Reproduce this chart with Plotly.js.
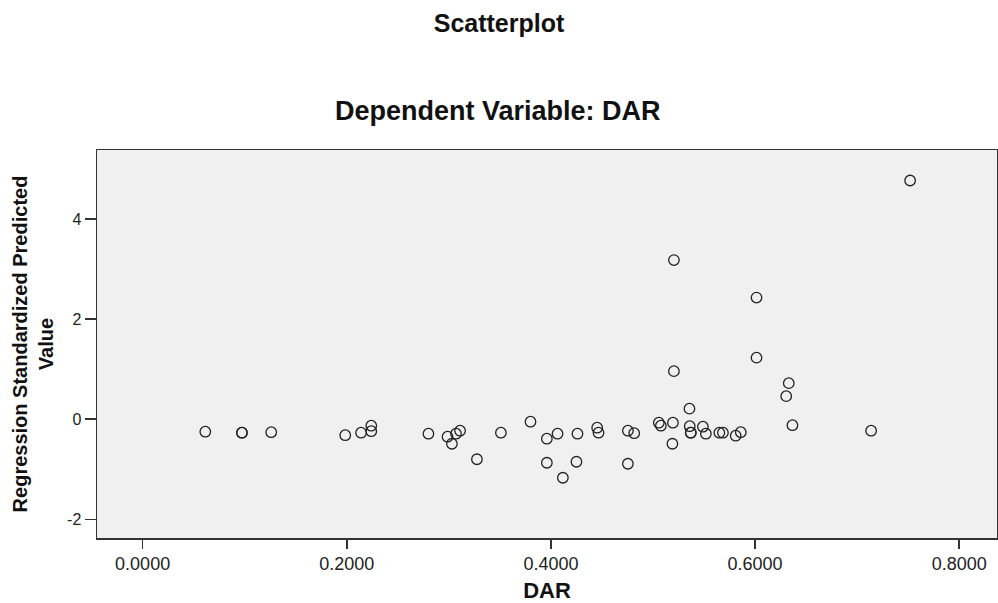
<!DOCTYPE html>
<html>
<head>
<meta charset="utf-8">
<script src="https://cdn.plot.ly/plotly-3.0.1.min.js"></script>
<style>html,body{margin:0;padding:0;background:#fff;}#chart{width:998px;height:603px;}</style>
</head>
<body>
<div id="chart"></div>
<script>
// DAR (x) values
const dar = [0.0614, 0.0973, 0.0973, 0.126, 0.1985, 0.214, 0.224, 0.224, 0.280, 0.2987,
  0.303, 0.307, 0.311, 0.3275, 0.351, 0.380, 0.396, 0.396, 0.4065, 0.4117,
  0.425, 0.426, 0.4453, 0.4466, 0.4754, 0.4754, 0.4816, 0.5057, 0.5077, 0.519,
  0.5195, 0.5205, 0.5205, 0.5357, 0.536, 0.537, 0.537, 0.5489, 0.5518, 0.565,
  0.5685, 0.581, 0.586, 0.6014, 0.6014, 0.6305, 0.633, 0.6366, 0.7137, 0.7519];
// Regression Standardized Predicted Value (y)
const predicted = [-0.25, -0.27, -0.27, -0.26, -0.32, -0.27, -0.13, -0.24, -0.29, -0.35,
  -0.49, -0.29, -0.23, -0.80, -0.27, -0.05, -0.39, -0.87, -0.29, -1.17,
  -0.85, -0.29, -0.17, -0.27, -0.23, -0.89, -0.28, -0.07, -0.13, -0.49,
  -0.07, 3.18, 0.96, 0.21, -0.14, -0.27, -0.27, -0.15, -0.29, -0.27,
  -0.27, -0.33, -0.26, 2.43, 1.23, 0.46, 0.72, -0.12, -0.23, 4.77];
const xTickVals = [0, 0.2, 0.4, 0.6, 0.8];
const xTickLabels = ['0.0000', '0.2000', '0.4000', '0.6000', '0.8000'];
const yTickVals = [-2, 0, 2, 4];
const yTickLabels = ['-2', '0', '2', '4'];

const FONT = 'Liberation Sans, Arial, sans-serif';

const trace = {
  type: 'scatter',
  mode: 'markers',
  x: dar,
  y: predicted,
  marker: {symbol: 'circle-open', size: 10.5, color: '#222', line: {color: '#222', width: 1.3}},
  hoverinfo: 'x+y'
};

const layout = {
  width: 998,
  height: 603,
  margin: {l: 97, r: 1, t: 150, b: 65, pad: 0},
  paper_bgcolor: '#ffffff',
  plot_bgcolor: '#f0f0f0',
  showlegend: false,
  font: {family: FONT, color: '#111'},
  title: {
    text: '<b>Scatterplot</b>',
    font: {family: FONT, size: 25, color: '#111'},
    x: 0.5, xref: 'container', xanchor: 'center',
    y: 1 - 23 / 603, yref: 'container', yanchor: 'middle'
  },
  annotations: [{
    text: '<b>Dependent Variable: DAR</b>',
    xref: 'paper', yref: 'paper',
    x: (498 - 97) / 900, y: (538 - 111) / 388,
    xanchor: 'center', yanchor: 'middle',
    showarrow: false,
    font: {family: FONT, size: 27, color: '#111'}
  }],
  xaxis: {
    range: [-0.0447, 0.837],
    tickvals: xTickVals,
    ticktext: xTickLabels,
    ticks: 'outside', ticklen: 9, tickwidth: 1.5, tickcolor: '#333',
    tickfont: {family: FONT, size: 18, color: '#222'},
    showgrid: false, zeroline: false,
    showline: true, linecolor: '#333', linewidth: 1.5, mirror: true,
    title: {text: '<b>DAR</b>', font: {family: FONT, size: 22, color: '#111'}, standoff: 9}
  },
  yaxis: {
    range: [-2.374, 5.38],
    tickvals: yTickVals,
    ticktext: yTickLabels,
    ticks: 'outside', ticklen: 11, tickwidth: 1.5, tickcolor: '#333',
    tickfont: {family: FONT, size: 16, color: '#222'},
    showgrid: false, zeroline: false,
    showline: true, linecolor: '#333', linewidth: 1.5, mirror: true,
    title: {text: '<b>Regression Standardized Predicted<br>Value</b>', font: {family: FONT, size: 20, color: '#111'}, standoff: 8}
  }
};

Plotly.newPlot('chart', [trace], layout, {displayModeBar: false, staticPlot: true});
</script>
</body>
</html>
